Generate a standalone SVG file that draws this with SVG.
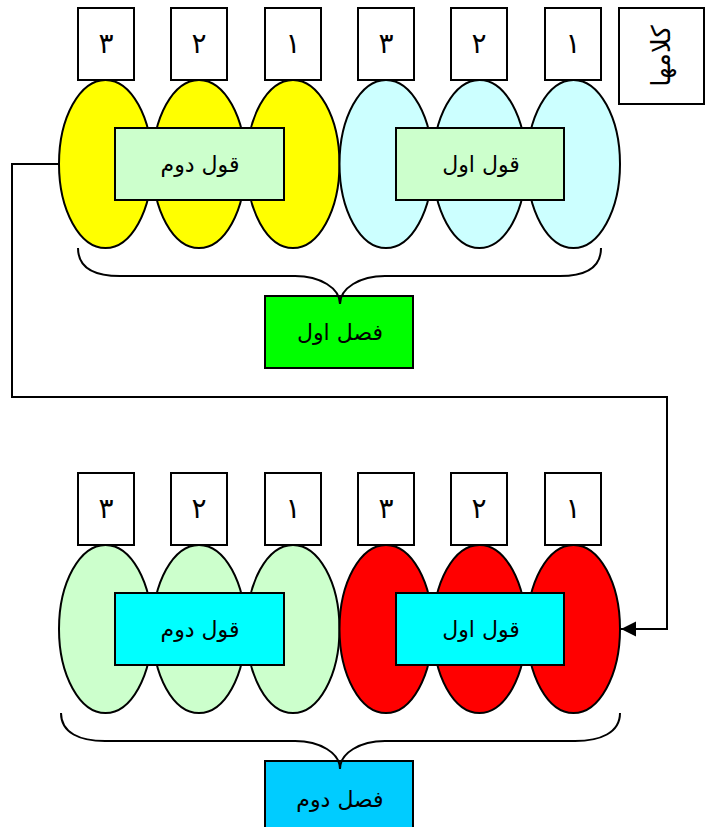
<svg xmlns="http://www.w3.org/2000/svg" width="706" height="827" viewBox="0 0 706 827">
<defs>
<style>
.num{fill:#fff;stroke:#000;stroke-width:2}
.ell{stroke:#000;stroke-width:2}
.box{stroke:#000;stroke-width:2}
.t{font-family:"DejaVu Sans","Noto Sans",sans-serif;font-size:22px;fill:#000;text-anchor:middle}
.d{font-family:"DejaVu Sans","Noto Sans",sans-serif;font-size:28px;fill:#000;text-anchor:middle}
.lbl{font-family:"DejaVu Sans","Noto Sans",sans-serif;font-size:26px;fill:#000;text-anchor:middle}
.brace{fill:none;stroke:#000;stroke-width:2}
.conn{fill:none;stroke:#000;stroke-width:2}
</style>
<marker id="arr" markerUnits="userSpaceOnUse" markerWidth="16" markerHeight="16" refX="15" refY="7.5" orient="auto">
<path d="M0,0 L15,7.5 L0,15 z" fill="#000"/>
</marker>
</defs>
<rect width="706" height="827" fill="#fff"/>

<g id="label-kalamha">
<rect class="num" x="619" y="8" width="85" height="96"/>
<text class="lbl" transform="translate(670,56) rotate(-90)">کلامها</text>
</g>

<!-- Top section -->
<g id="top-words">
<g id="t-box-3a"><rect class="num" x="78" y="8" width="56" height="72"/><text class="d" x="106" y="53">۳</text></g>
<g id="t-box-2a"><rect class="num" x="171" y="8" width="56" height="72"/><text class="d" x="199" y="53">۲</text></g>
<g id="t-box-1a"><rect class="num" x="265" y="8" width="56" height="72"/><text class="d" x="293" y="53">۱</text></g>
<g id="t-box-3b"><rect class="num" x="358" y="8" width="56" height="72"/><text class="d" x="386" y="53">۳</text></g>
<g id="t-box-2b"><rect class="num" x="451" y="8" width="56" height="72"/><text class="d" x="479" y="53">۲</text></g>
<g id="t-box-1b"><rect class="num" x="545" y="8" width="56" height="72"/><text class="d" x="573" y="53">۱</text></g>
</g>

<g id="top-ellipses">
<ellipse class="ell" cx="105.5" cy="164" rx="46.5" ry="84" fill="#ffff00"/>
<ellipse class="ell" cx="199" cy="164" rx="46.5" ry="84" fill="#ffff00"/>
<ellipse class="ell" cx="293" cy="164" rx="46.5" ry="84" fill="#ffff00"/>
<ellipse class="ell" cx="386" cy="164" rx="46.5" ry="84" fill="#ccffff"/>
<ellipse class="ell" cx="479.5" cy="164" rx="46.5" ry="84" fill="#ccffff"/>
<ellipse class="ell" cx="573.5" cy="164" rx="46.5" ry="84" fill="#ccffff"/>
</g>

<g id="top-qowl-dovom"><rect class="box" x="115" y="128" width="169" height="72" fill="#ccffcc"/><text class="t" x="200" y="172">قول دوم</text></g>
<g id="top-qowl-avval"><rect class="box" x="396" y="128" width="168" height="72" fill="#ccffcc"/><text class="t" x="481" y="172">قول اول</text></g>

<g id="fasl-avval"><rect class="box" x="265" y="296" width="148" height="72" fill="#00ff00"/><text class="t" x="340" y="340">فصل اول</text></g>

<!-- Bottom section -->
<g id="bottom-words">
<g id="b-box-3a"><rect class="num" x="78" y="473" width="56" height="72"/><text class="d" x="106" y="518">۳</text></g>
<g id="b-box-2a"><rect class="num" x="171" y="473" width="56" height="72"/><text class="d" x="199" y="518">۲</text></g>
<g id="b-box-1a"><rect class="num" x="265" y="473" width="56" height="72"/><text class="d" x="293" y="518">۱</text></g>
<g id="b-box-3b"><rect class="num" x="358" y="473" width="56" height="72"/><text class="d" x="386" y="518">۳</text></g>
<g id="b-box-2b"><rect class="num" x="451" y="473" width="56" height="72"/><text class="d" x="479" y="518">۲</text></g>
<g id="b-box-1b"><rect class="num" x="545" y="473" width="56" height="72"/><text class="d" x="573" y="518">۱</text></g>
</g>

<g id="bottom-ellipses">
<ellipse class="ell" cx="105.5" cy="629" rx="46.5" ry="84" fill="#ccffcc"/>
<ellipse class="ell" cx="199" cy="629" rx="46.5" ry="84" fill="#ccffcc"/>
<ellipse class="ell" cx="293" cy="629" rx="46.5" ry="84" fill="#ccffcc"/>
<ellipse class="ell" cx="386" cy="629" rx="46.5" ry="84" fill="#ff0000"/>
<ellipse class="ell" cx="479.5" cy="629" rx="46.5" ry="84" fill="#ff0000"/>
<ellipse class="ell" cx="573.5" cy="629" rx="46.5" ry="84" fill="#ff0000"/>
</g>

<g id="bottom-qowl-dovom"><rect class="box" x="115" y="593" width="169" height="72" fill="#00ffff"/><text class="t" x="200" y="637">قول دوم</text></g>
<g id="bottom-qowl-avval"><rect class="box" x="396" y="593" width="168" height="72" fill="#00ffff"/><text class="t" x="481" y="637">قول اول</text></g>

<g id="fasl-dovom"><rect class="box" x="265" y="761" width="148" height="72" fill="#00ccff"/><text class="t" x="340" y="807">فصل دوم</text></g>

<g id="braces">
<path class="brace" d="M78,248 C78,268 95,276 120,276 L295,276 C320,276 340,288 340,304 C340,288 360,276 385,276 L560,276 C585,276 601,268 601,248"/>
<path class="brace" d="M61,713 C61,733 80,741 105,741 L295,741 C320,741 340,753 340,769 C340,753 360,741 385,741 L575,741 C600,741 620,733 620,713"/>
</g>

<g id="connectors">
<path class="conn" d="M59,164 H12 V397 H667 V629 H621" marker-end="url(#arr)"/>
</g>
</svg>
